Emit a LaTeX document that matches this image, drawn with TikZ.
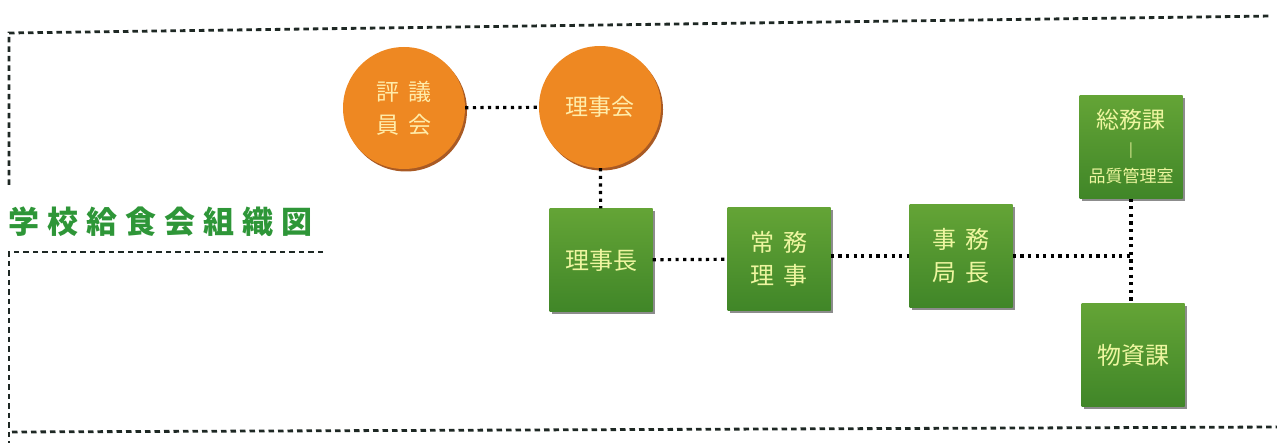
\documentclass[tikz,border=0pt]{standalone}
\usepackage{xcolor}
\usepackage{fontspec}
\setmainfont{Noto Sans CJK JP}
\usetikzlibrary{shadows}

\definecolor{orgorange}{RGB}{238,136,34}
\definecolor{orgshade}{RGB}{160,72,12}
\definecolor{orggreentop}{RGB}{100,164,54}
\definecolor{orggreenbot}{RGB}{64,134,40}
\definecolor{orgpale}{RGB}{238,246,160}
\definecolor{orgcream}{RGB}{255,236,170}
\definecolor{orgtitle}{RGB}{46,150,56}
\definecolor{orgline}{RGB}{30,40,36}

\newcommand\tsp{\hspace{8pt}}

\begin{document}
\begin{tikzpicture}[x=1pt,y=1pt,yscale=-1,xscale=1,
  orgcircle/.style={circle, minimum size=122pt, inner sep=0pt, fill=orgorange, text=orgcream, align=center, font=\fontsize{23}{33}\selectfont, drop shadow={shadow xshift=2pt, shadow yshift=-2.5pt, fill=orgshade, opacity=0.9}},
  orgbox/.style={rectangle, minimum size=103pt, inner sep=0pt, top color=orggreentop, bottom color=orggreenbot, text=orgpale, align=center, font=\fontsize{24}{33}\selectfont, drop shadow={shadow xshift=2pt, shadow yshift=-2.5pt, fill=black, opacity=0.45}},
  link/.style={line width=3.2pt, dash pattern=on 3.2pt off 4.4pt},
  frame/.style={color=orgline, line width=2.8pt, dash pattern=on 5.5pt off 4pt}
]
\useasboundingbox (0,0) rectangle (1277,443);

% Frame
\draw [frame] (9,185) -- (9,33) -- (1272,16) ;
\draw [frame] (323,252) -- (9,252) -- (9,443) ;
\draw [frame] (12,432) -- (1277,427) ;

% Title
\draw (161,222) node [text=orgtitle, font=\fontsize{31}{31}\selectfont\bfseries, inner sep=0pt] (title) {学\tsp 校\tsp 給\tsp 食\tsp 会\tsp 組\tsp 織\tsp 図};

% Circles
\draw (404,108) node [orgcircle] (hyogi) {評\hspace{10pt}議\\員\hspace{10pt}会};
\draw (600,107) node [orgcircle] (rijikai) {理事会};

% Boxes
\draw (601,260) node [orgbox] (rijicho) {理事長};
\draw (779,259) node [orgbox] (jomu) {常\hspace{9pt}務\\理\hspace{9pt}事};
\draw (961,256) node [orgbox] (jimu) {事\hspace{9pt}務\\局\hspace{9pt}長};
\draw (1131,147) node [orgbox] (soumu) {\fontsize{23}{26}\selectfont 総務課\\[-7pt]\fontsize{14}{13}\selectfont |\\[-5pt]\fontsize{17}{24}\selectfont 品質管理室};
\draw (1133,355) node [orgbox] (busshi) {物資課};

% Dotted Lines
\coordinate (junc) at (soumu |- jimu) ;
\draw [link] (hyogi) -- (rijikai) ;
\draw [link] (rijikai) -- (rijicho) ;
\draw [link] (rijicho) -- (jomu) ;
\draw [link] (jimu.west -| jomu.east) -- (jimu.west) ;
\draw [link] (jimu) -- (junc) ;
\draw [link] (soumu) -- (busshi.north -| soumu) ;

\end{tikzpicture}
\end{document}
